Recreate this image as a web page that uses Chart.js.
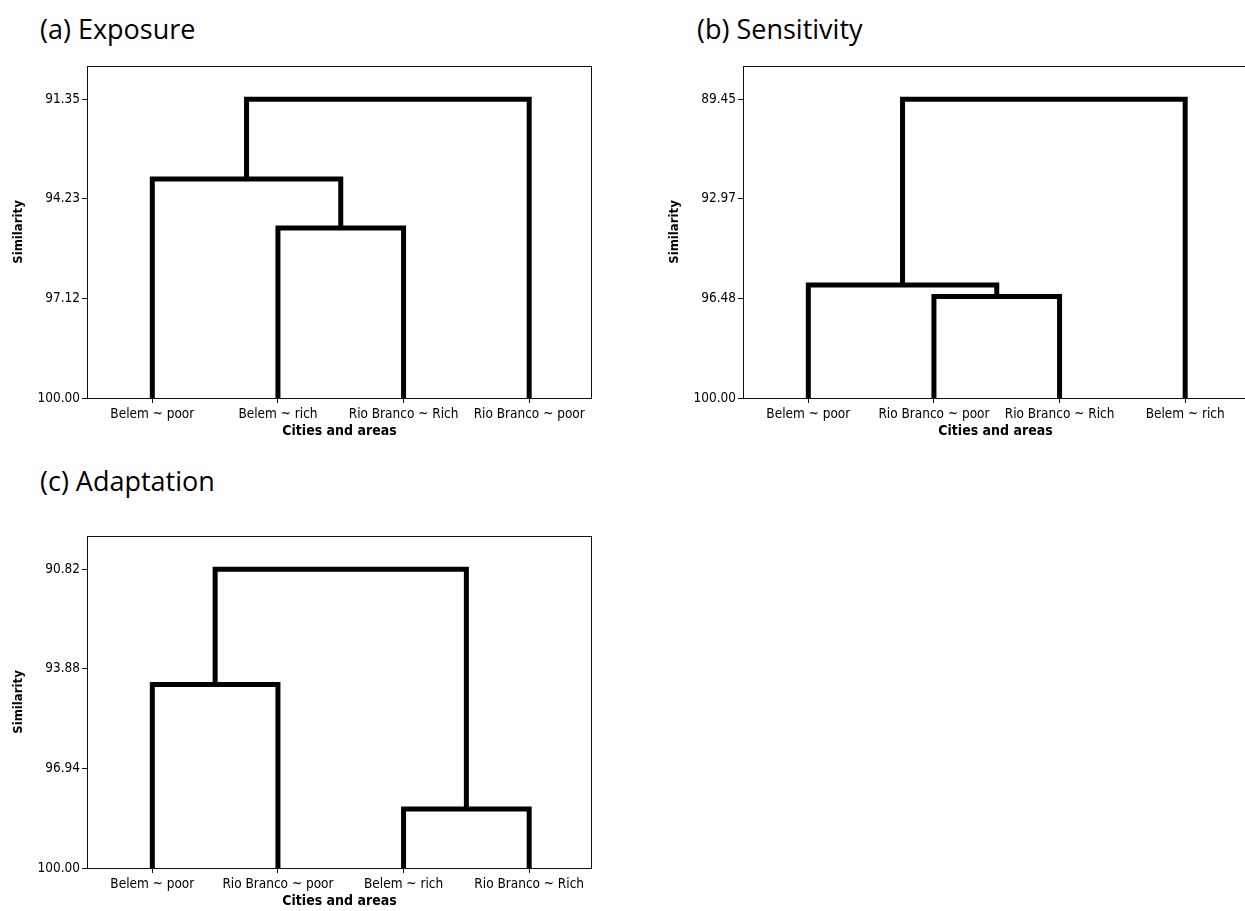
<!DOCTYPE html>
<html>
<head>
<meta charset="utf-8">
<script src="https://cdn.jsdelivr.net/npm/chart.js@4.4.0/dist/chart.umd.min.js"></script>
<style>
html, body { margin:0; padding:0; background:#fff; width:1245px; height:911px; overflow:hidden; position:relative; }
canvas { position:absolute; }
.ptitle { position:absolute; font-family:"Open Sans", sans-serif; font-size:27px; line-height:34px; color:#000; white-space:nowrap; }
</style>
</head>
<body>
<div class="ptitle" style="left:40px; top:12px;">(a) Exposure</div>
<div class="ptitle" style="left:697px; top:12px;">(b) Sensitivity</div>
<div class="ptitle" style="left:40px; top:464px;">(c) Adaptation</div>
<canvas id="cA" width="620" height="460" style="left:0px; top:0px;"></canvas>
<canvas id="cB" width="620" height="460" style="left:656px; top:0px;"></canvas>
<canvas id="cC" width="620" height="460" style="left:0px; top:470px;"></canvas>
<script>
// ---- data ----
const exposureLeaves = ['Belem ~ poor', 'Belem ~ rich', 'Rio Branco ~ Rich', 'Rio Branco ~ poor'];
const exposureLinkA = [1, 0, 5];
const exposureLinkB = [2, 4, 3];
const exposureHeights = [95.08, 93.66, 91.35];
const exposureTicks = [91.35, 94.23, 97.12, 100.00];
const exposureAxisTop = 90.39;

const sensitivityLeaves = ['Belem ~ poor', 'Rio Branco ~ poor', 'Rio Branco ~ Rich', 'Belem ~ rich'];
const sensitivityLinkA = [1, 0, 5];
const sensitivityLinkB = [2, 4, 3];
const sensitivityHeights = [96.42, 96.01, 89.45];
const sensitivityTicks = [89.45, 92.97, 96.48, 100.00];
const sensitivityAxisTop = 88.28;

const adaptationLeaves = ['Belem ~ poor', 'Rio Branco ~ poor', 'Belem ~ rich', 'Rio Branco ~ Rich'];
const adaptationLinkA = [0, 2, 4];
const adaptationLinkB = [1, 3, 5];
const adaptationHeights = [94.36, 98.19, 90.82];
const adaptationTicks = [90.82, 93.88, 96.94, 100.00];
const adaptationAxisTop = 89.80;

const baseSimilarity = 100;
const xAxisTitle = 'Cities and areas';
const yAxisTitle = 'Similarity';

// ---- drawing ----
const AXIS_FONT = '"DejaVu Sans Condensed", "DejaVu Sans", sans-serif';

const boxPlugin = {
  id: 'plotBox',
  beforeDatasetsDraw(chart) {
    const { ctx, chartArea: a } = chart;
    ctx.save();
    ctx.strokeStyle = '#111';
    ctx.lineWidth = 1;
    ctx.strokeRect(Math.round(a.left) + 0.5, Math.round(a.top) + 0.5,
                   Math.round(a.right - a.left) - 1, Math.round(a.bottom - a.top));
    ctx.restore();
  }
};

function dendroDatasets(leaves, linkA, linkB, heights) {
  const xs = leaves.map((_, i) => i + 1);
  const hs = leaves.map(() => baseSimilarity);
  const sets = [];
  for (let k = 0; k < heights.length; k++) {
    const a = linkA[k], b = linkB[k], h = heights[k];
    sets.push({
      data: [
        { x: xs[a], y: hs[a] },
        { x: xs[a], y: h },
        { x: xs[b], y: h },
        { x: xs[b], y: hs[b] }
      ],
      showLine: true,
      borderColor: '#000',
      borderWidth: 5,
      borderJoinStyle: 'miter',
      borderCapStyle: 'butt',
      pointRadius: 0,
      fill: false,
      tension: 0
    });
    xs.push((xs[a] + xs[b]) / 2);
    hs.push(h);
  }
  return sets;
}

function makeChart(id, leaves, linkA, linkB, heights, ticks, axisTop) {
  return new Chart(document.getElementById(id), {
    type: 'scatter',
    data: { datasets: dendroDatasets(leaves, linkA, linkB, heights) },
    options: {
      responsive: false,
      animation: false,
      layout: { padding: { top: 66, right: 28, bottom: 0, left: 0 } },
      plugins: { legend: { display: false }, tooltip: { enabled: false } },
      scales: {
        x: {
          type: 'linear',
          min: 0.48,
          max: 4.5,
          border: { display: false },
          grid: { display: true, drawOnChartArea: false, drawTicks: true, tickLength: 5, color: '#111', lineWidth: 1 },
          afterBuildTicks: (s) => { s.ticks = leaves.map((_, i) => ({ value: i + 1 })); },
          afterFit: (s) => { s.height = 62; },
          ticks: {
            autoSkip: false, maxRotation: 0, minRotation: 0, padding: 3,
            color: '#000', font: { family: AXIS_FONT, size: 13.5 },
            callback: (v) => leaves[Math.round(v) - 1] || ''
          },
          title: {
            display: true, text: xAxisTitle, color: '#000',
            font: { family: AXIS_FONT, size: 14, weight: 'bold' },
            padding: { top: 0, bottom: 20 }
          }
        },
        y: {
          type: 'linear',
          reverse: true,
          min: axisTop,
          max: baseSimilarity,
          border: { display: false },
          grid: { display: true, drawOnChartArea: false, drawTicks: true, tickLength: 5, color: '#111', lineWidth: 1 },
          afterBuildTicks: (s) => { s.ticks = ticks.map(v => ({ value: v })); },
          afterFit: (s) => { s.width = 87; },
          ticks: {
            padding: 2, color: '#000', font: { family: AXIS_FONT, size: 13.5 },
            callback: (v) => Number(v).toFixed(2)
          },
          title: {
            display: true, text: yAxisTitle, color: '#000',
            font: { family: AXIS_FONT, size: 13, weight: 'bold' },
            padding: { top: 11, bottom: 0 }
          }
        }
      }
    },
    plugins: [boxPlugin]
  });
}

makeChart('cA', exposureLeaves, exposureLinkA, exposureLinkB, exposureHeights, exposureTicks, exposureAxisTop);
makeChart('cB', sensitivityLeaves, sensitivityLinkA, sensitivityLinkB, sensitivityHeights, sensitivityTicks, sensitivityAxisTop);
makeChart('cC', adaptationLeaves, adaptationLinkA, adaptationLinkB, adaptationHeights, adaptationTicks, adaptationAxisTop);
</script>
</body>
</html>
